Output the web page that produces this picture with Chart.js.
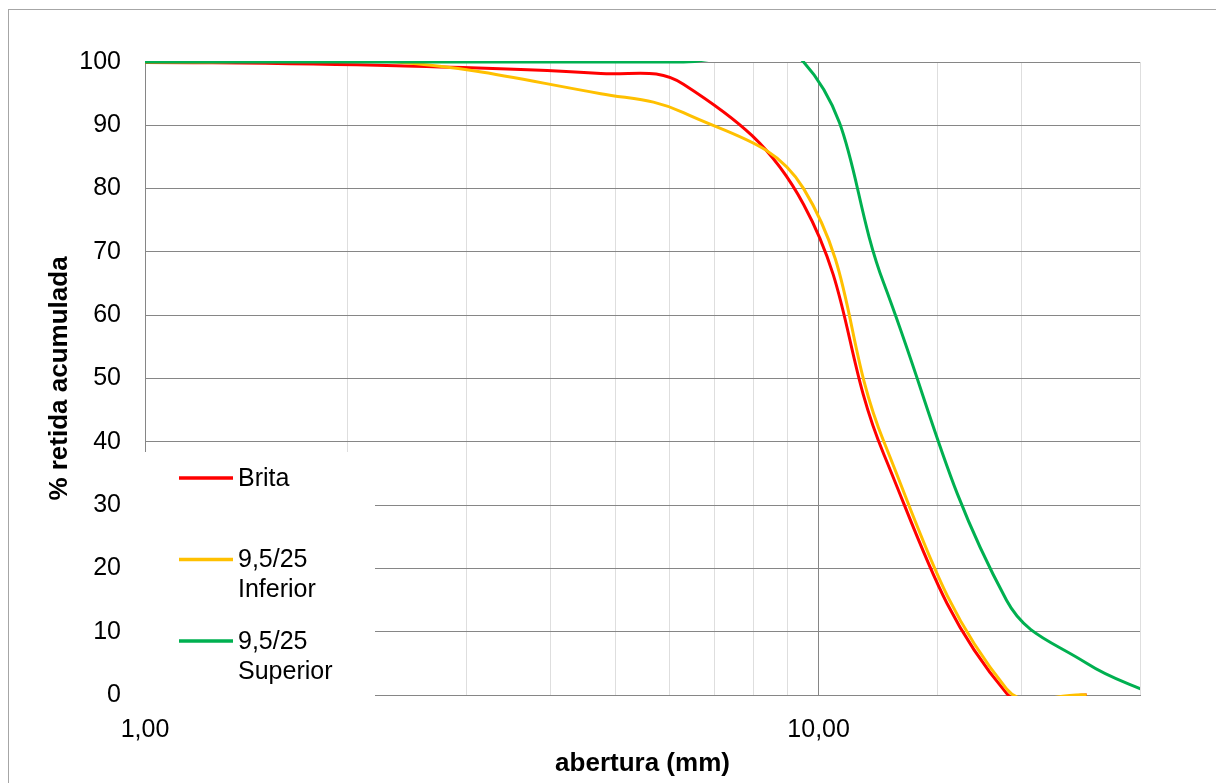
<!DOCTYPE html>
<html>
<head>
<meta charset="utf-8">
<script src="https://cdn.jsdelivr.net/npm/chart.js@4/dist/chart.umd.min.js"></script>
<style>
  html, body { margin: 0; padding: 0; background: #fff; }
  #wrap { position: relative; width: 1216px; height: 783px; overflow: hidden; }
  #frame { position: absolute; left: 8px; top: 9px; width: 2000px; height: 2000px;
           border-left: 1px solid #a6a6a6; border-top: 1px solid #a6a6a6; }
  canvas { position: absolute; left: 0; top: 0; }
</style>
</head>
<body>
<div id="wrap">
  <div id="frame"></div>
  <canvas id="chart" width="1216" height="783"></canvas>
</div>
<script>
// abertura das peneiras (mm)
const sieves = [0.6, 1.18, 2.36, 4.75, 6.3, 9.5, 12.5, 19, 25, 31.5];

// % retida acumulada
const brita    = [100, 99.9, 99.4, 98.2, 96.5, 77.5, 38, 0.3, 0];
const inferior = [100, 100, 100, 95, 92, 80, 40, 1, 0];
const superior = [100, 100, 100, 100, 100, 100, 65, 15, 5, 0];

const seriesNames  = [['Brita'], ['9,5/25', 'Inferior'], ['9,5/25', 'Superior']];
const seriesColors = ['#ff0000', '#ffc000', '#00b050'];

const xTickLabels = { 1: '1,00', 10: '10,00' };

const FONT = '"Liberation Sans", Arial, sans-serif';
Chart.defaults.font.family = FONT;
Chart.defaults.color = '#000';

function toPoints(values) {
    return values.map((v, i) => ({ x: sieves[i], y: v }));
}

// legend drawn over the lower-left corner of the plot, white box behind it
const boxLegend = {
    id: 'boxLegend',
    beforeDatasetsDraw(chart) {
        const { ctx, chartArea } = chart;
        const left = chartArea.left;
        const bottom = chartArea.bottom;
        ctx.save();
        ctx.fillStyle = '#fff';
        ctx.fillRect(left - 8, bottom - 243, 238, 247);
        ctx.font = '25px ' + FONT;
        ctx.textBaseline = 'middle';
        ctx.fillStyle = '#000';
        let y = bottom - 217;
        seriesNames.forEach((lines, i) => {
            ctx.strokeStyle = seriesColors[i];
            ctx.lineWidth = 3.5;
            ctx.beginPath();
            ctx.moveTo(left + 34, y);
            ctx.lineTo(left + 88, y);
            ctx.stroke();
            lines.forEach((t, j) => ctx.fillText(t, left + 93, y + 1 + j * 30));
            y += 81.5;
        });
        ctx.restore();
    }
};

const lineStyle = {
    borderWidth: 3,
    pointRadius: 0,
    tension: 0.4,
    fill: false,
    clip: { left: 0, right: 0, top: 1, bottom: 1 }
};

new Chart(document.getElementById('chart'), {
    type: 'line',
    data: {
        datasets: [
            { label: 'Brita', data: toPoints(brita), borderColor: seriesColors[0], order: 3, ...lineStyle },
            { label: '9,5/25 Inferior', data: toPoints(inferior), borderColor: seriesColors[1], order: 2, ...lineStyle },
            { label: '9,5/25 Superior', data: toPoints(superior), borderColor: seriesColors[2], order: 1, ...lineStyle }
        ]
    },
    options: {
        responsive: false,
        animation: false,
        events: [],
        elements: { line: { capBezierPoints: false } },
        layout: { padding: { left: 0, right: 76, top: 62, bottom: 0 } },
        plugins: { legend: { display: false }, tooltip: { enabled: false } },
        scales: {
            x: {
                type: 'logarithmic',
                min: 1,
                max: 30,
                afterFit: (s) => { s.height = 88; },
                border: { color: '#868686' },
                grid: {
                    drawTicks: false,
                    color: (c) => (c.tick && c.tick.value === 10) ? '#868686' : '#dedede'
                },
                ticks: {
                    autoSkip: false,
                    maxRotation: 0,
                    padding: 20,
                    font: { size: 25 },
                    callback: (v) => xTickLabels[v] || ''
                },
                title: {
                    display: true,
                    text: 'abertura (mm)',
                    font: { size: 26, weight: 'bold' },
                    padding: { top: 0, bottom: 4 }
                }
            },
            y: {
                min: 0,
                max: 100,
                afterFit: (s) => { s.width = 145; },
                border: { color: '#868686' },
                grid: { drawTicks: false, color: '#868686' },
                ticks: { stepSize: 10, padding: 24, font: { size: 25 } },
                title: {
                    display: true,
                    text: '% retida acumulada',
                    font: { size: 26, weight: 'bold' },
                    padding: { top: 44, bottom: 0 }
                }
            }
        }
    },
    plugins: [boxLegend]
});
</script>
</body>
</html>
